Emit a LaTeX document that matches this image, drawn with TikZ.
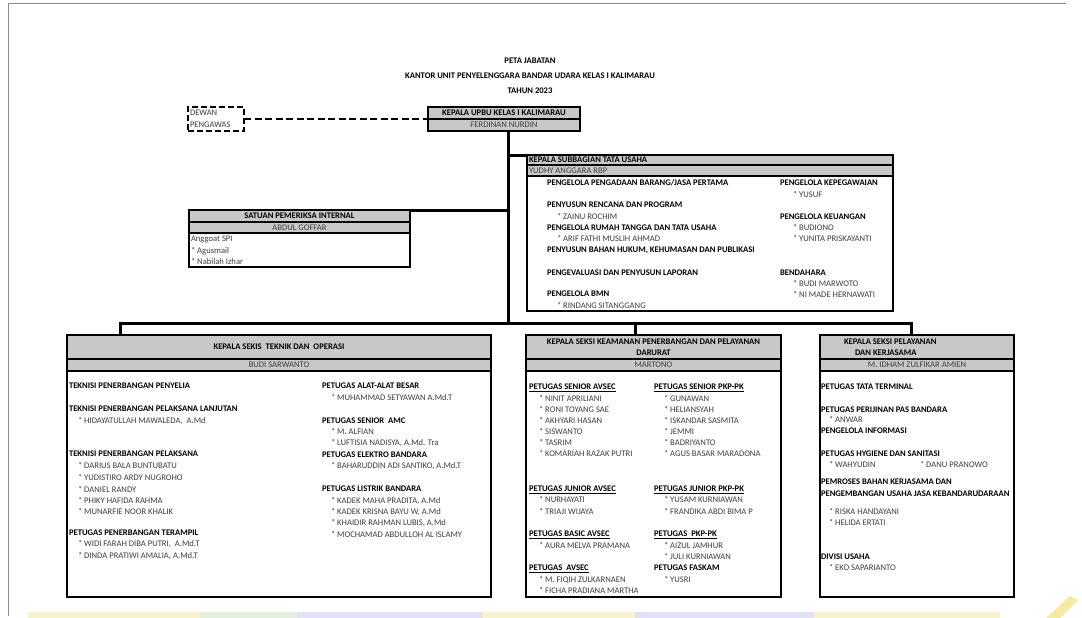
\documentclass[tikz,border=0pt]{standalone}
\usepackage{fontspec}
\setmainfont{Carlito}
\definecolor{rowgray}{RGB}{200,200,200}
\definecolor{txtgray}{RGB}{62,62,62}
\definecolor{stripY}{RGB}{248,242,205}
\definecolor{stripG}{RGB}{228,240,222}
\definecolor{stripB}{RGB}{226,226,246}
\definecolor{cornerY}{RGB}{246,234,160}
\begin{document}
\begin{tikzpicture}[x=1pt,y=-1pt,
  every node/.style={inner sep=0pt,outer sep=0pt},
  hd/.style={anchor=west,text height=5.8pt,text depth=0pt,font=\fontsize{8.6}{10}\selectfont\bfseries,text=black},
  it/.style={anchor=west,text height=5.8pt,text depth=0pt,font=\fontsize{8.6}{10}\selectfont,text=txtgray},
  rowbox/.style={draw=black,line width=1.1pt,fill=rowgray,anchor=north west,font=\fontsize{8.6}{10}\selectfont,text=txtgray},
  bodybox/.style={draw=black,line width=1.1pt,fill=white,anchor=north west},
  conn/.style={draw=black,line width=3pt},
  dashline/.style={draw=black,line width=2.4pt,dash pattern=on 7pt off 3.5pt}
]
\useasboundingbox (0,0) rectangle (1082,618);
\fill[white] (0,0) rectangle (1082,618);
% page frame and scan strip
\draw[black!45,line width=0.6pt] (8,616) -- (8,3) -- (1066,3);
\fill[stripY] (28,612) rectangle (200,618);
\fill[stripG] (200,612) rectangle (297,618);
\fill[stripB] (297,612) rectangle (483,618);
\fill[stripY] (483,612) rectangle (635,618);
\fill[stripB] (635,612) rectangle (814,618);
\fill[stripY] (814,612) rectangle (1000,618);
\fill[cornerY] (1046,618) -- (1070,596) -- (1078,600) -- (1060,618) -- cycle;

% title
\node[hd,anchor=center] (ttl1) at (530,61) {PETA JABATAN};
\node[hd,anchor=center] (ttl2) at (530,76) {KANTOR UNIT PENYELENGGARA BANDAR UDARA KELAS I KALIMARAU};
\node[hd,anchor=center] (ttl3) at (530,91) {TAHUN 2023};

% dewan pengawas
\node[draw=black,line width=2.4pt,dash pattern=on 6pt off 3pt,minimum width=56pt,minimum height=24pt,anchor=north west] (dewan) at (188,107) {};
\node[it] (dw1) at (190,113) {DEWAN};
\node[it] (dw2) at (190,125) {PENGAWAS};

% kepala upbu
\node[rowbox,minimum width=152pt,minimum height=12pt] (kupT) at (428,107) {\bfseries\color{black}KEPALA UPBU KELAS I KALIMARAU};
\node[rowbox,minimum width=152pt,minimum height=12pt] (kupN) at (428,119) {FERDINAN NURDIN};
\draw[dashline] (dewan.east) -- (kupN.north west);

% subbagian tata usaha
\node[rowbox,minimum width=366pt,minimum height=10pt] (sbT) at (527,155) {};
\node[rowbox,minimum width=366pt,minimum height=11pt] (sbN) at (527,165) {};
\node[bodybox,minimum width=366pt,minimum height=135pt] (sbB) at (527,176) {};
\node[hd] (sbt1) at (529,160) {KEPALA SUBBAGIAN TATA USAHA};
\node[it] (sbn1) at (529,170.5) {YUDHY ANGGARA RBP};
\node[hd] (sa1) at (547,183) {PENGELOLA PENGADAAN BARANG/JASA PERTAMA};
\node[hd] (sa2) at (547,205) {PENYUSUN RENCANA DAN PROGRAM};
\node[it] (sa3) at (557,217) {* ZAINU ROCHIM};
\node[hd] (sa4) at (547,228) {PENGELOLA RUMAH TANGGA DAN TATA USAHA};
\node[it] (sa5) at (557,239) {* ARIF FATHI MUSLIH AHMAD};
\node[hd] (sa6) at (547,250) {PENYUSUN BAHAN HUKUM, KEHUMASAN DAN PUBLIKASI};
\node[hd] (sa7) at (547,273) {PENGEVALUASI DAN PENYUSUN LAPORAN};
\node[hd] (sa8) at (547,294) {PENGELOLA BMN};
\node[it] (sa9) at (557,305.5) {* RINDANG SITANGGANG};
\node[hd] (sr1) at (780,183) {PENGELOLA KEPEGAWAIAN};
\node[it] (sr2) at (793,194.5) {* YUSUF};
\node[hd] (sr3) at (780,217) {PENGELOLA KEUANGAN};
\node[it] (sr4) at (793,228) {* BUDIONO};
\node[it] (sr5) at (793,239) {* YUNITA PRISKAYANTI};
\node[hd] (sr6) at (780,273) {BENDAHARA};
\node[it] (sr7) at (793,284) {* BUDI MARWOTO};
\node[it] (sr8) at (793,294.5) {* NI MADE HERNAWATI};

% satuan pemeriksa internal
\node[rowbox,minimum width=221pt,minimum height=12pt] (spT) at (189,210) {\bfseries\color{black}SATUAN PEMERIKSA INTERNAL};
\node[rowbox,minimum width=221pt,minimum height=11pt] (spN) at (189,222) {ABDUL GOFFAR};
\node[bodybox,minimum width=221pt,minimum height=34pt] (spB) at (189,233) {};
\node[it] (sp1) at (191,239) {Anggoat SPI};
\node[it] (sp2) at (191,251) {* Agusmail};
\node[it] (sp3) at (191,262) {* Nabilah Izhar};

% bottom boxes
\node[rowbox,minimum width=424pt,minimum height=24pt] (lkT) at (67,335) {\bfseries\color{black}KEPALA SEKIS~~TEKNIK DAN~~OPERASI};
\node[rowbox,minimum width=424pt,minimum height=12pt] (lkN) at (67,359) {BUDI SARWANTO};
\node[bodybox,minimum width=424pt,minimum height=226pt] (lkB) at (67,371) {};

\node[rowbox,minimum width=255pt,minimum height=24pt] (mkT) at (526,335) {};
\node[rowbox,minimum width=255pt,minimum height=12pt] (mkN) at (526,359) {MARTONO};
\node[bodybox,minimum width=255pt,minimum height=226pt] (mkB) at (526,371) {};
\node[hd,anchor=center] (mkt1) at (653.5,341.5) {KEPALA SEKSI KEAMANAN PENERBANGAN DAN PELAYANAN};
\node[hd,anchor=center] (mkt2) at (653.5,353) {DARURAT};

\node[rowbox,minimum width=194pt,minimum height=24pt] (rkT) at (820,335) {};
\node[rowbox,minimum width=194pt,minimum height=12pt] (rkN) at (820,359) {M. IDHAM ZULFIKAR AMIEN};
\node[bodybox,minimum width=194pt,minimum height=226pt] (rkB) at (820,371) {};
\node[hd] (rkt1) at (844,341.5) {KEPALA SEKSI PELAYANAN};
\node[hd] (rkt2) at (855,353) {DAN KERJASAMA};

% connectors
\coordinate (trunk) at (508,323);
\coordinate (busL) at (120,323);
\coordinate (busM) at (635,323);
\coordinate (busR) at (911,323);
\draw[conn] (trunk |- kupN.south) -- (trunk);
\draw[conn] (sbT.north west) -- (trunk |- sbT.north west);
\draw[conn] (spT.north east) -- (trunk |- spT.north east);
\draw[conn] (busL |- lkT.north) -- (busL) -- (busR) -- (busR |- rkT.north);
\draw[conn] (busM) -- (busM |- mkT.north);

% left box body
\node[hd] (l1) at (69,386) {TEKNISI PENERBANGAN PENYELIA};
\node[hd] (l2) at (69,409) {TEKNISI PENERBANGAN PELAKSANA LANJUTAN};
\node[it] (l3) at (78,421) {* HIDAYATULLAH MAWALEDA,~~A.Md};
\node[hd] (l4) at (69,454) {TEKNISI PENERBANGAN PELAKSANA};
\node[it] (l5) at (78,466) {* DARIUS BALA BUNTUBATU};
\node[it] (l6) at (78,478) {* YUDISTIRO ARDY NUGROHO};
\node[it] (l7) at (78,489.5) {* DANIEL RANDY};
\node[it] (l8) at (78,501) {* PHIKY HAFIDA RAHMA};
\node[it] (l9) at (78,512) {* MUNARFIE NOOR KHALIK};
\node[hd] (l10) at (69,532.5) {PETUGAS PENERBANGAN TERAMPIL};
\node[it] (l11) at (78,544) {* WIDI FARAH DIBA PUTRI,~~A.Md.T};
\node[it] (l12) at (78,555.5) {* DINDA PRATIWI AMALIA, A.Md.T};
\node[hd] (r1) at (322,386) {PETUGAS ALAT-ALAT BESAR};
\node[it] (r2) at (331,397.5) {* MUHAMMAD SETYAWAN A.Md.T};
\node[hd] (r3) at (322,421) {PETUGAS SENIOR~~AMC};
\node[it] (r4) at (331,432) {* M. ALFIAN};
\node[it] (r5) at (331,443) {* LUFTISIA NADISYA, A.Md. Tra};
\node[hd] (r6) at (322,454.5) {PETUGAS ELEKTRO BANDARA};
\node[it] (r7) at (331,466) {* BAHARUDDIN ADI SANTIKO, A.Md.T};
\node[hd] (r8) at (322,489) {PETUGAS LISTRIK BANDARA};
\node[it] (r9) at (331,501) {* KADEK MAHA PRADITA, A.Md};
\node[it] (r10) at (331,512) {* KADEK KRISNA BAYU W, A.Md};
\node[it] (r11) at (331,523) {* KHAIDIR RAHMAN LUBIS, A.Md};
\node[it] (r12) at (331,534.5) {* MOCHAMAD ABDULLOH AL ISLAMY};

% middle box body
\node[hd] (m1) at (529,387) {\underline{PETUGAS SENIOR AVSEC}};
\node[it] (m2) at (539,398.5) {* NINIT APRILIANI};
\node[it] (m3) at (539,409.5) {* RONI TOYANG SAE};
\node[it] (m4) at (539,421) {* AKHYARI HASAN};
\node[it] (m5) at (539,432) {* SISWANTO};
\node[it] (m6) at (539,443) {* TASRIM};
\node[it] (m7) at (539,454) {* KOMARIAH RAZAK PUTRI};
\node[hd] (m8) at (529,489) {\underline{PETUGAS JUNIOR AVSEC}};
\node[it] (m9) at (539,500) {* NURHAYATI};
\node[it] (m10) at (539,511.5) {* TRIAJI WIJAYA};
\node[hd] (m11) at (529,534) {\underline{PETUGAS BASIC AVSEC}};
\node[it] (m12) at (539,545.5) {* AURA MELVA PRAMANA};
\node[hd] (m13) at (529,568) {\underline{PETUGAS~~AVSEC}};
\node[it] (m14) at (539,579.5) {* M. FIQIH ZULKARNAEN};
\node[it] (m15) at (539,591) {* FICHA PRADIANA MARTHA};
\node[hd] (n1) at (654,387) {\underline{PETUGAS SENIOR PKP-PK}};
\node[it] (n2) at (664,398.5) {* GUNAWAN};
\node[it] (n3) at (664,409.5) {* HELIANSYAH};
\node[it] (n4) at (664,421) {* ISKANDAR SASMITA};
\node[it] (n5) at (664,432) {* JEMMI};
\node[it] (n6) at (664,443) {* BADRIYANTO};
\node[it] (n7) at (664,454) {* AGUS BASAR MARADONA};
\node[hd] (n8) at (654,489) {\underline{PETUGAS JUNIOR PKP-PK}};
\node[it] (n9) at (664,500) {* YUSAM KURNIAWAN};
\node[it] (n10) at (664,511.5) {* FRANDIKA ABDI BIMA P};
\node[hd] (n11) at (654,534) {\underline{PETUGAS~~PKP-PK}};
\node[it] (n12) at (664,545.5) {* AIZUL JAMHUR};
\node[it] (n13) at (664,556.5) {* JULI KURNIAWAN};
\node[hd] (n14) at (654,568) {PETUGAS FASKAM};
\node[it] (n15) at (664,579.5) {* YUSRI};

% right box body
\node[hd] (p1) at (821,387) {PETUGAS TATA TERMINAL};
\node[hd] (p2) at (821,409.5) {PETUGAS PERIJINAN PAS BANDARA};
\node[it] (p3) at (829,420) {* ANWAR};
\node[hd] (p4) at (821,431) {PENGELOLA INFORMASI};
\node[hd] (p5) at (821,454) {PETUGAS HYGIENE DAN SANITASI};
\node[it] (p6) at (829,465) {* WAHYUDIN};
\node[it] (p7) at (920,465) {* DANU PRANOWO};
\node[hd] (p8) at (821,482) {PEMROSES BAHAN KERJASAMA DAN};
\node[hd] (p9) at (821,493.5) {PENGEMBANGAN USAHA JASA KEBANDARUDARAAN};
\node[it] (p10) at (829,512) {* RISKA HANDAYANI};
\node[it] (p11) at (829,522.5) {* HELIDA ERTATI};
\node[hd] (p12) at (821,557) {DIVISI USAHA};
\node[it] (p13) at (829,568) {* EKO SAPARIANTO};
\end{tikzpicture}
\end{document}
